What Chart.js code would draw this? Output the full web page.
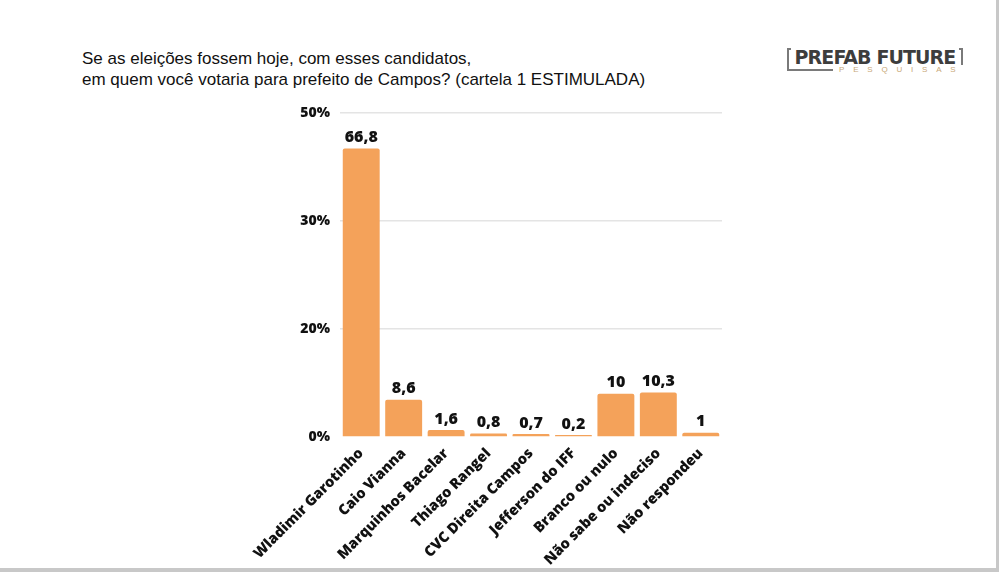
<!DOCTYPE html>
<html>
<head>
<meta charset="utf-8">
<script src="https://cdn.jsdelivr.net/npm/chart.js@4"></script>
<style>
  body { margin: 0; background: #fff; }
  #page { position: relative; width: 1000px; height: 574px; overflow: hidden; }
  #frame { position: absolute; left: 0; top: 0; width: 996px; height: 568px;
           border-right: 3px solid #c8c8c8; border-bottom: 4px solid #c8c8c8; }
  #title { position: absolute; left: 82px; top: 48px; font-family: "Liberation Sans", Arial, sans-serif;
           font-size: 17px; line-height: 21px; color: #111; white-space: nowrap; }
  #logo { position: absolute; left: 787px; top: 44px; width: 178px; height: 30px; }
  #logo .box { position: absolute; left: 0; top: 4px; width: 172px; height: 21px;
               border: 2px solid #7a7a7a; border-top: none; }
  #logo .tl, #logo .tr { position: absolute; top: 4px; width: 4px; height: 2px; background: #7a7a7a; }
  #logo .tl { left: 0; } #logo .tr { left: 172px; }
  #logo .name { position: absolute; left: 3px; top: 1px; width: 170px; text-align: center; white-space: nowrap;
                font-family: "DejaVu Sans", sans-serif; font-weight: bold; font-size: 19px;
                letter-spacing: -0.9px; color: #3d3d3d; line-height: 24px; }
  #logo .sub { position: absolute; left: 46px; top: 21px; background: #fff; padding: 0 2px 0 6px; white-space: nowrap;
               font-family: "Liberation Sans", Arial, sans-serif; font-size: 8px; letter-spacing: 8.8px;
               color: #c8a878; line-height: 10px; }
  #chartWrap { position: absolute; left: 0; top: 0; width: 1000px; height: 574px; }
</style>
</head>
<body>
<div id="page">
  <div id="frame"></div>
  <div id="title">Se as eleições fossem hoje, com esses candidatos,<br>em quem você votaria para prefeito de Campos? (cartela 1 ESTIMULADA)</div>
  <div id="logo">
    <div class="box"></div><div class="tl"></div><div class="tr"></div>
    <div class="name">PREFAB FUTURE</div>
    <div class="sub">PESQUISAS</div>
  </div>
  <div id="chartWrap"><canvas id="chart"></canvas></div>
</div>
<script>
// chart data
const categories = ['Wladimir Garotinho', 'Caio Vianna', 'Marquinhos Bacelar', 'Thiago Rangel',
  'CVC Direita Campos', 'Jefferson do IFF', 'Branco ou nulo', 'Não sabe ou indeciso', 'Não respondeu'];
const values = [66.8, 8.6, 1.6, 0.8, 0.7, 0.2, 10, 10.3, 1];
// the original axis is labelled oddly: ticks every 25 units carry these labels
const tickValues = [0, 25, 50, 75];
const tickLabels = ['0%', '20%', '30%', '50%'];

const barColor = '#F4A25A';
const font = 'Open Sans';

// draws the value above each bar
const valueLabels = {
  id: 'valueLabels',
  afterDatasetsDraw(chart) {
    const ctx = chart.ctx;
    const meta = chart.getDatasetMeta(0);
    ctx.save();
    ctx.font = '800 16px "' + font + '"';
    ctx.fillStyle = '#111';
    ctx.textAlign = 'center';
    ctx.textBaseline = 'bottom';
    meta.data.forEach(function(bar, i) {
      ctx.fillText(String(values[i]).replace('.', ','), bar.x, bar.y - 3);
    });
    ctx.restore();
  }
};

const ctx = document.getElementById('chart').getContext('2d');
const chart = new Chart(ctx, {
  type: 'bar',
  data: {
    labels: categories,
    datasets: [{
      data: values,
      backgroundColor: barColor,
      borderRadius: 2,
      borderSkipped: 'bottom',
      minBarLength: 2,
      barPercentage: 0.87,
      categoryPercentage: 1
    }]
  },
  options: {
    responsive: true,
    maintainAspectRatio: false,
    animation: false,
    layout: { padding: { left: 290, right: 278, top: 113, bottom: 0 } },
    plugins: { legend: { display: false }, tooltip: { enabled: false } },
    scales: {
      x: {
        grid: { display: false },
        border: { display: false },
        ticks: {
          color: '#111',
          font: { family: font, weight: 800, size: 14.5 },
          maxRotation: 45, minRotation: 45,
          padding: 0
        },
        afterFit(scale) { scale.height = 137; }
      },
      y: {
        min: 0, max: 75,
        border: { display: false },
        grid: {
          color: c => c.tick.value === 0 ? 'rgba(0,0,0,0)' : '#e4e4e4',
          lineWidth: 1.5,
          drawTicks: false
        },
        afterBuildTicks(scale) { scale.ticks = tickValues.map(v => ({ value: v })); },
        ticks: {
          color: '#111',
          font: { family: font, weight: 800, size: 14 },
          padding: 10,
          callback: (v) => tickLabels[tickValues.indexOf(v)]
        },
        afterFit(scale) { scale.width = 50; }
      }
    }
  },
  plugins: [valueLabels]
});
</script>
</body>
</html>
